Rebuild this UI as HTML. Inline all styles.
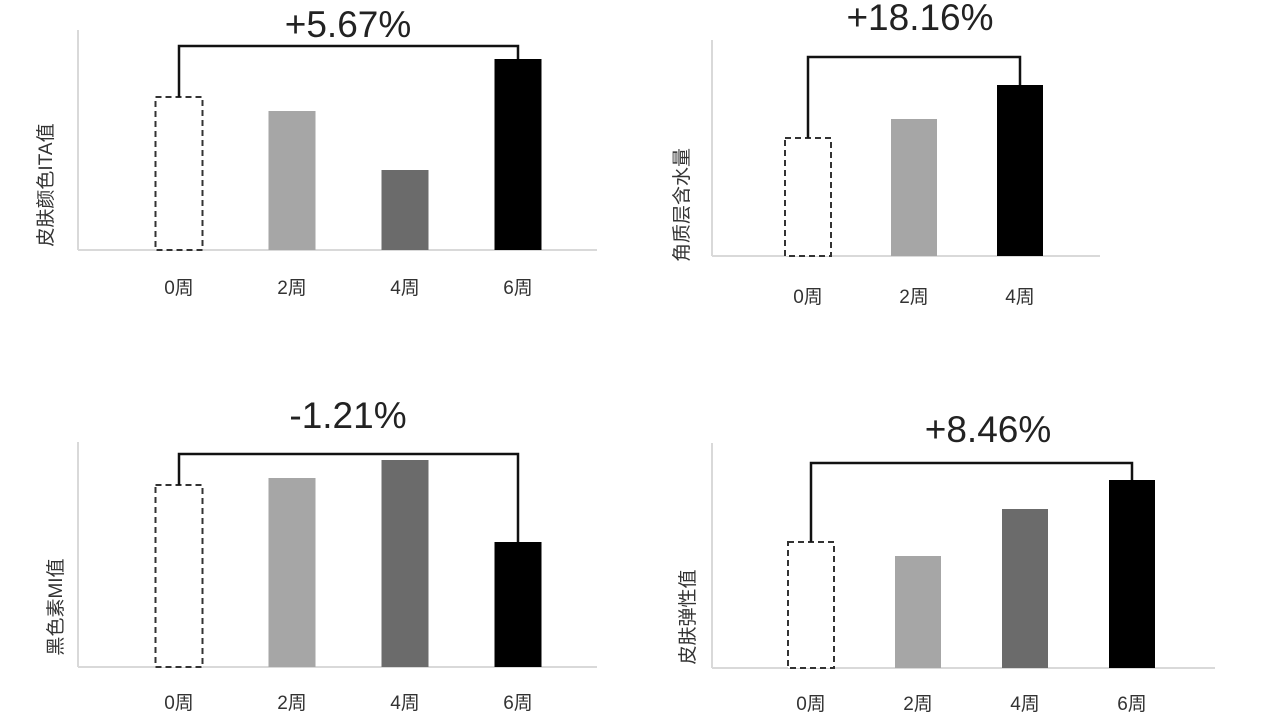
<!DOCTYPE html>
<html><head><meta charset="utf-8">
<style>
html,body{margin:0;padding:0;background:#fff;}
svg{display:block;}
text{font-family:"Liberation Sans","Noto Sans CJK SC",sans-serif;}
</style></head>
<body>
<svg id="s" width="1269" height="713" viewBox="0 0 1269 713"></svg>
<script>
// Chart data (arbitrary units)
const c1Categories = ["0周","2周","4周","6周"];
const c1Values = [153, 139, 80, 191];
const c1Change = "+5.67%";
const c1Title = "皮肤颜色ITA值";

const c2Categories = ["0周","2周","4周"];
const c2Values = [118, 137, 171];
const c2Change = "+18.16%";
const c2Title = "角质层含水量";

const c3Categories = ["0周","2周","4周","6周"];
const c3Values = [182, 189, 207, 125];
const c3Change = "-1.21%";
const c3Title = "黑色素MI值";

const c4Categories = ["0周","2周","4周","6周"];
const c4Values = [126, 112, 159, 188];
const c4Change = "+8.46%";
const c4Title = "皮肤弹性值";

const fills = ["#ffffff","#a6a6a6","#6b6b6b","#000000","#000000"];
const NS = "http://www.w3.org/2000/svg";
const svg = document.getElementById("s");
function mk(tag, attrs, parent){
  const e = document.createElementNS(NS, tag);
  for (const k in attrs) e.setAttribute(k, attrs[k]);
  (parent||svg).appendChild(e);
  return e;
}
// layout configs (geometry only)
const layouts = [
  {axisX:78, top:30, base:250, right:597, x0:179, step:113, bw:47, bracketY:46, labelY:37, labelX:348, tickY:294, titleX:52, titleY:185},
  {axisX:712, top:40, base:256, right:1100, x0:808, step:106, bw:46, bracketY:57, labelY:30, labelX:920, tickY:303, titleX:688, titleY:205},
  {axisX:78, top:442, base:667, right:597, x0:179, step:113, bw:47, bracketY:454, labelY:428, labelX:348, tickY:709, titleX:62, titleY:607},
  {axisX:712, top:443, base:668, right:1215, x0:811, step:107, bw:46, bracketY:463, labelY:442, labelX:988, tickY:710, titleX:694, titleY:617}
];
const charts = [
  [c1Categories,c1Values,c1Change,c1Title],
  [c2Categories,c2Values,c2Change,c2Title],
  [c3Categories,c3Values,c3Change,c3Title],
  [c4Categories,c4Values,c4Change,c4Title]
];
charts.forEach(([cats,vals,chg,title],ci)=>{
  const L = layouts[ci];
  const g = mk("g",{});
  
  
  const yS = v => L.base - v; // 1px per unit
  const xS = i => L.x0 + i*L.step;
  const ya = mk("line",{x1:L.axisX,y1:L.top,x2:L.axisX,y2:L.base,stroke:"#d9d9d9","stroke-width":2},g);
  
  
  const xa = mk("line",{x1:L.axisX,y1:L.base,x2:L.right,y2:L.base,stroke:"#d9d9d9","stroke-width":2},g);
  
  
  vals.forEach((v,i)=>{
    const cx = xS(i), top = yS(v);
    const last = i===vals.length-1;
    const fill = last ? "#000" : fills[i];
    const r = mk("rect",{x:cx-L.bw/2,y:top,width:L.bw,height:L.base-top,fill:fill},g);
    if(i===0){ r.setAttribute("stroke","#333"); r.setAttribute("stroke-width","2"); r.setAttribute("stroke-dasharray","6,4"); }
    
    
    const t = mk("text",{x:cx,y:L.tickY,"text-anchor":"middle","font-size":19,fill:"#333"},g);
    t.textContent = cats[i];
    
    
  });
  const n = vals.length-1;
  const xa0 = xS(0), xa1 = xS(n);
  const br = mk("polyline",{points:`${xa0},${yS(vals[0])} ${xa0},${L.bracketY} ${xa1},${L.bracketY} ${xa1},${yS(vals[n])}`,fill:"none",stroke:"#111","stroke-width":2.5},g);
  
  
  const lbl = mk("text",{x:L.labelX,y:L.labelY,"text-anchor":"middle","font-size":37,fill:"#222"},g);
  lbl.textContent = chg;
  
  
  const yt = mk("text",{x:L.titleX,y:L.titleY,"text-anchor":"middle","font-size":19,fill:"#333",transform:`rotate(-90 ${L.titleX} ${L.titleY})`},g);
  yt.textContent = title;
  
  
});
</script>
</body></html>
